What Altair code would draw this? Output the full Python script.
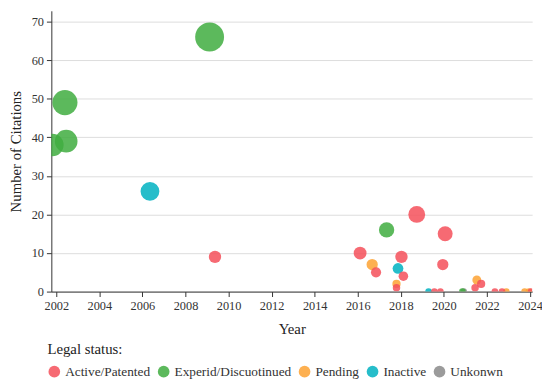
import altair as alt
import pandas as pd

# Data
years = [
    2016.67, 2017.80, 2021.53, 2022.90, 2023.75, 2023.95,          # Pending
    2006.35, 2017.87, 2019.29,                                      # Inactive
    2020.92,                                                        # Unknown
    2001.82, 2002.46, 2002.40, 2009.12, 2017.34, 2020.86,          # Expired
    2009.37, 2016.11, 2016.85, 2018.03, 2018.12, 2017.80, 2018.74,  # Active
    2020.06, 2019.95, 2019.56, 2019.84, 2021.45, 2021.73, 2022.37,
    2022.70, 2024.05,
]
citations = [
    7, 2, 3, 0, 0, 0,
    26, 6, 0,
    0,
    38, 39, 49, 66, 16, 0,
    9, 10, 5, 9, 4, 1, 20,
    15, 7, 0, 0, 1, 2, 0,
    0, 0,
]
status = (
    ["Pending"] * 6
    + ["Inactive"] * 3
    + ["Unkonwn"] * 1
    + ["Experid/Discuotinued"] * 6
    + ["Active/Patented"] * 16
)
layer = list(range(len(years)))

status_order = ["Active/Patented", "Experid/Discuotinued", "Pending", "Inactive", "Unkonwn"]
status_colors = ["#F4505A", "#3FAD3F", "#FDA232", "#00B1C1", "#8A8A8A"]

df = pd.DataFrame({"Year": years, "Citations": citations, "Status": status, "Layer": layer})

FONT = "Liberation Serif"

chart = (
    alt.Chart(df)
    .mark_circle(opacity=0.85, clip=True)
    .encode(
        x=alt.X(
            "Year:Q",
            scale=alt.Scale(domain=[2001.77, 2024.1], nice=False, zero=False),
            axis=alt.Axis(values=list(range(2002, 2025, 2)), format="d", grid=False,
                          title="Year", titlePadding=10, labelFont=FONT, titleFont=FONT),
        ),
        y=alt.Y(
            "Citations:Q",
            scale=alt.Scale(domain=[0, 72.8], nice=False),
            axis=alt.Axis(values=list(range(0, 71, 10)), grid=True,
                          title="Number of Citations", titlePadding=8,
                          labelFont=FONT, titleFont=FONT),
        ),
        size=alt.Size("Citations:Q", scale=alt.Scale(domain=[0, 66], range=[45, 860]), legend=None),
        color=alt.Color(
            "Status:N",
            scale=alt.Scale(domain=status_order, range=status_colors),
            legend=alt.Legend(
                title="Legal status:",
                orient="none",
                legendX=-4,
                legendY=336,
                direction="horizontal",
                symbolType="circle",
                symbolSize=140,
                symbolOpacity=0.85,
                columnPadding=6,
                titlePadding=8,
                labelFont=FONT,
                titleFont=FONT,
            ),
        ),
        order=alt.Order("Layer:Q"),
    )
    .properties(
        width=488,
        height=285,
        autosize=alt.AutoSizeParams(type="none"),
        padding={"left": 44, "top": 0, "right": 10, "bottom": 94},
    )
    .configure(font=FONT)
    .configure_view(stroke="transparent")
    .configure_axis(
        labelFont=FONT,
        titleFont=FONT,
        labelFontSize=12.5,
        titleFontSize=15,
        titleFontWeight="normal",
        labelColor="#333",
        titleColor="#222",
        domainColor="#333",
        tickColor="#333",
        tickSize=5,
        gridColor="#dcdcdc",
        labelPadding=3,
    )
    .configure_legend(
        titleFont=FONT,
        labelFont=FONT,
        titleFontSize=15,
        labelFontSize=13.5,
        titleFontWeight="normal",
        titleColor="#222",
        labelColor="#333",
    )
)

chart.save("out.html", embed_options={"renderer": "svg", "actions": False})
